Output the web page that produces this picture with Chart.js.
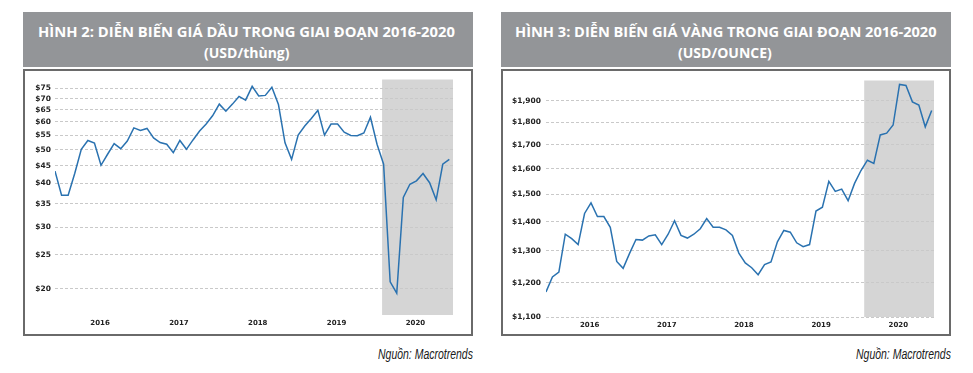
<!DOCTYPE html>
<html>
<head>
<meta charset="utf-8">
<script src="https://cdn.jsdelivr.net/npm/chart.js@4.4.1/dist/chart.umd.min.js"></script>
<style>
  html, body { margin:0; padding:0; background:#fff; }
  body { width:973px; height:373px; position:relative; overflow:hidden; }
  .hdr { position:absolute; top:12px; width:450px; height:55px; background:#939598; }
  .box { position:absolute; top:69px; width:450px; height:267px; box-sizing:border-box; border:2px solid #6a6a6a; background:#fff; }
  .box canvas { position:absolute; left:0; top:0; }
  .t { position:absolute; white-space:nowrap; transform-origin:0 50%; line-height:1; }
  .title { color:#fff; font-family:"Open Sans", sans-serif; font-weight:700; font-size:14px; }
  .src { color:#1a1a1a; font-family:"Liberation Sans Narrow","Liberation Sans",sans-serif; font-style:italic; font-size:14px; }
</style>
</head>
<body>
<div class="hdr" style="left:23px"></div>
<div class="hdr" style="left:501px"></div>
<div class="box" style="left:23px"><canvas id="oil" width="446" height="263"></canvas></div>
<div class="box" style="left:501px"><canvas id="gold" width="446" height="263"></canvas></div>

<span class="t title" data-x="38" data-w="417" data-cy="32">HÌNH 2: DIỄN BIẾN GIÁ DẦU TRONG GIAI ĐOẠN 2016-2020</span>
<span class="t title" data-x="204" data-w="86" data-cy="53">(USD/thùng)</span>
<span class="t title" data-x="515" data-w="422" data-cy="32">HÌNH 3: DIỄN BIẾN GIÁ VÀNG TRONG GIAI ĐOẠN 2016-2020</span>
<span class="t title" data-x="678" data-w="94" data-cy="53">(USD/OUNCE)</span>
<span class="t src" data-x="378" data-w="95" data-cy="354">Nguồn: Macrotrends</span>
<span class="t src" data-x="856" data-w="95" data-cy="354">Nguồn: Macrotrends</span>

<script>
// ---- data (monthly) ----
const yearLabels = ['2016', '2017', '2018', '2019', '2020'];

const oilTickValues = [20, 25, 30, 35, 40, 45, 50, 55, 60, 65, 70, 75];
const oilPrices = [43.4, 37.0, 37.0, 42.7, 50.1, 53.1, 52.2, 45.1, 48.5, 52.0,
  50.3, 52.9, 57.7, 56.7, 57.5, 54.0, 52.4, 51.8, 49.0, 53.1,
  50.1, 53.3, 56.5, 59.2, 62.6, 67.5, 64.4, 67.5, 71.0, 69.3,
  75.9, 71.2, 71.5, 75.4, 67.3, 52.3, 46.9, 55.0, 58.4, 61.4,
  64.8, 55.0, 59.2, 59.2, 56.1, 54.9, 54.8, 55.8, 61.9, 51.8,
  45.4, 20.9, 19.4, 36.5, 39.8, 40.7, 42.7, 40.2, 35.9, 45.4, 46.9];

const goldTickValues = [1100, 1200, 1300, 1400, 1500, 1600, 1700, 1800, 1900];
const goldPrices = [1172, 1217, 1232, 1356, 1341, 1321, 1429, 1468, 1418, 1418,
  1380, 1266, 1244, 1292, 1338, 1336, 1350, 1354, 1321, 1356,
  1403, 1352, 1343, 1356, 1375, 1411, 1380, 1380, 1371, 1352,
  1293, 1261, 1246, 1224, 1256, 1264, 1330, 1369, 1363, 1327,
  1314, 1321, 1438, 1452, 1550, 1511, 1520, 1476, 1542, 1593,
  1635, 1622, 1743, 1751, 1787, 1980, 1975, 1895, 1880, 1779, 1854];

// ---- text fitting ----
document.querySelectorAll('.t').forEach(el => {
  const w = el.offsetWidth, h = el.offsetHeight;
  const tw = +el.dataset.w;
  el.style.left = el.dataset.x + 'px';
  el.style.top = (+el.dataset.cy - h / 2) + 'px';
  el.style.transform = 'scaleX(' + (tw / w) + ')';
});

const shadePlugin = {
  id: 'shade',
  beforeDraw(chart, args, opts) {
    const { ctx, chartArea, scales } = chart;
    const x0 = scales.x.getPixelForValue(opts.from);
    ctx.save();
    ctx.fillStyle = '#d5d5d5';
    ctx.fillRect(x0, chartArea.top, chartArea.right - x0, chartArea.bottom - chartArea.top);
    ctx.restore();
  }
};

function makeChart(id, values, cfg) {
  const tickFont = { family: '"DejaVu Sans", Verdana, sans-serif', weight: 'bold' };
  return new Chart(document.getElementById(id), {
    type: 'line',
    data: {
      datasets: [{
        data: values.map((v, i) => ({ x: i, y: v })),
        borderColor: '#2a72b0',
        borderWidth: 1.5,
        pointRadius: 0,
        tension: 0,
        fill: false
      }]
    },
    options: {
      responsive: false,
      animation: false,
      devicePixelRatio: 1,
      layout: { padding: { top: cfg.padTop, right: cfg.padRight, left: 0, bottom: 0 } },
      plugins: { legend: { display: false }, tooltip: { enabled: false }, shade: { from: cfg.shadeFrom } },
      scales: {
        x: {
          type: 'linear',
          min: 0,
          max: cfg.xMax,
          grid: { display: false, drawTicks: false },
          border: { display: false },
          afterBuildTicks: s => { s.ticks = yearLabels.map((y, k) => ({ value: cfg.yearTick + 12 * k })); },
          afterFit: s => { s.height = cfg.xAxisH; },
          ticks: {
            autoSkip: false, maxRotation: 0, padding: 4, color: '#222',
            font: Object.assign({ size: 7 }, tickFont),
            callback: (v, idx) => yearLabels[idx]
          }
        },
        y: {
          type: 'logarithmic',
          min: cfg.yMin,
          max: cfg.yMax,
          grid: { color: '#c9c9c9', lineWidth: 1, drawTicks: false },
          border: { display: false, dash: [3, 2] },
          afterBuildTicks: s => { s.ticks = cfg.tickValues.map(v => ({ value: v })); },
          afterFit: s => { s.width = cfg.yAxisW; },
          ticks: {
            autoSkip: false, padding: cfg.yPad, color: '#222',
            font: Object.assign({ size: 7.5 }, tickFont),
            callback: cfg.fmt
          }
        }
      }
    },
    plugins: [shadePlugin]
  });
}

makeChart('oil', oilPrices, {
  tickValues: oilTickValues, yMin: 16.8, yMax: 79.4,
  xMax: 60.56, yearTick: 6.85, shadeFrom: 49.77,
  padTop: 7, padRight: 18, yAxisW: 30, xAxisH: 19, yPad: 4,
  fmt: v => '$' + v
});

makeChart('gold', goldPrices, {
  tickValues: goldTickValues, yMin: 1100, yMax: 2000,
  xMax: 60.36, yearTick: 6.8, shadeFrom: 49.5,
  padTop: 3, padRight: 15, yAxisW: 43, xAxisH: 17, yPad: 5,
  fmt: v => '$' + v.toLocaleString('en-US')
});
</script>
</body>
</html>
